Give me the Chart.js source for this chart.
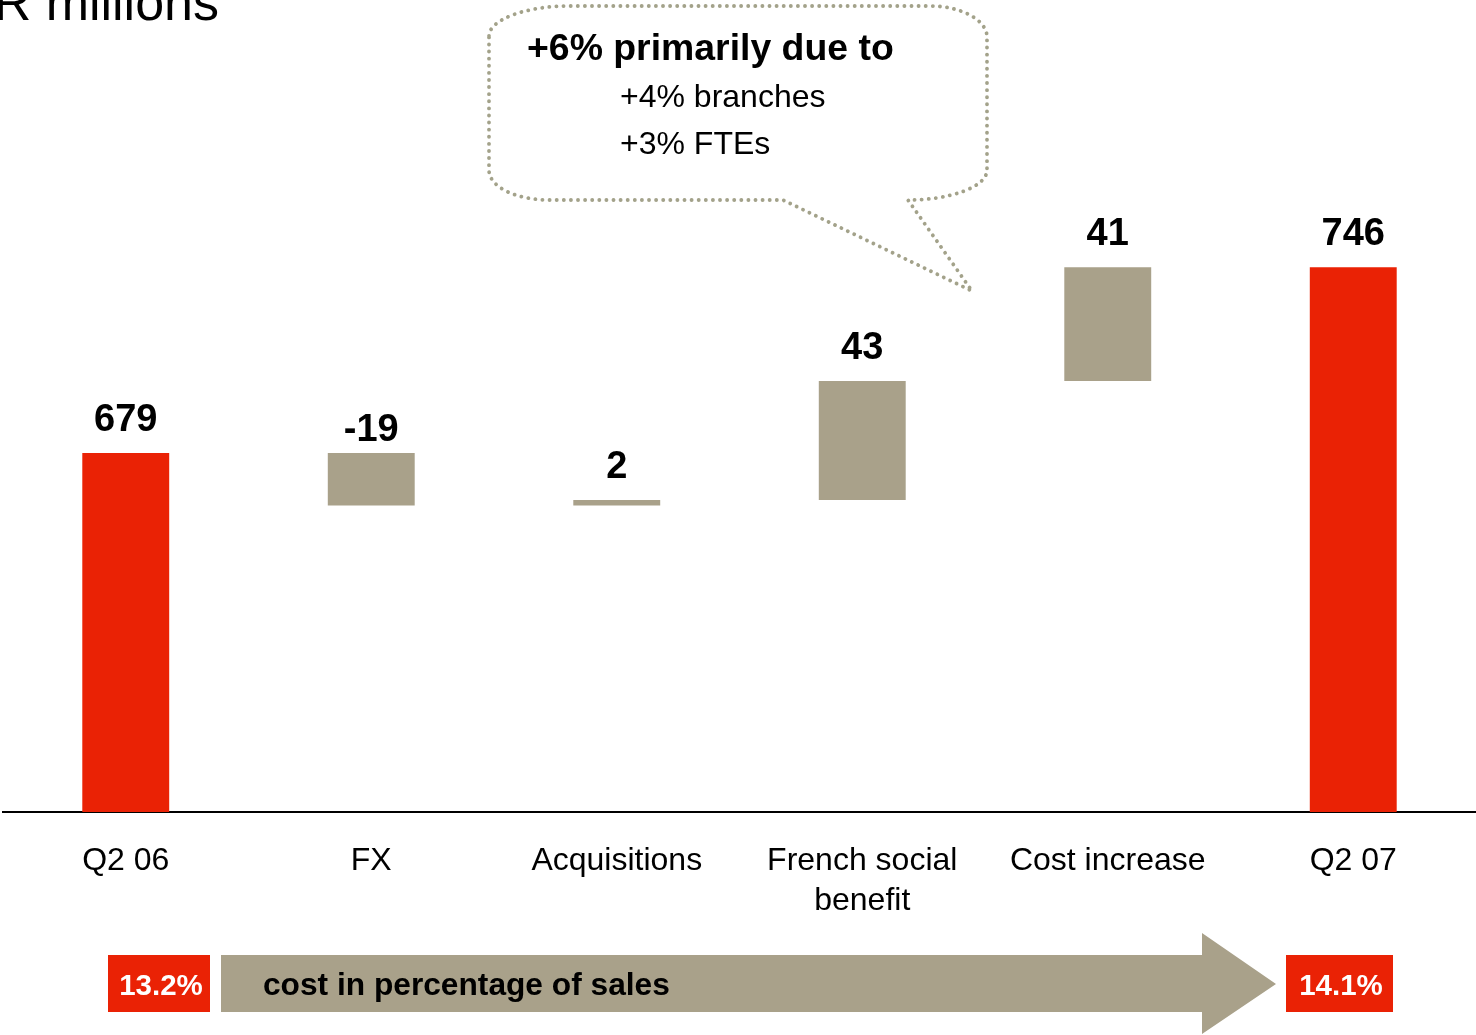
<!DOCTYPE html>
<html><head><meta charset="utf-8">
<script src="https://cdn.jsdelivr.net/npm/chart.js@4"></script>
<style>html,body{margin:0;padding:0;background:#fff;overflow:hidden}#wrap{position:relative;width:1476px;height:1035px}</style>
</head><body><div id="wrap"><canvas id="c" width="1476" height="1035"></canvas></div>
<script>
const categories = [['Q2 06'], ['FX'], ['Acquisitions'], ['French social', 'benefit'], ['Cost increase'], ['Q2 07']];
const startTotal = 679;
const deltas = [-19, 2, 43, 41];
const endTotal = 746;
const costPct = ['13.2%', '14.1%'];
const costCaption = 'cost in percentage of sales';
const unitLabel = 'EUR millions';
const calloutTitle = '+6% primarily due to';
const calloutLines = ['+4% branches', '+3% FTEs'];

const RED = '#EA2205';
const BEIGE = '#A9A18A';
const DOTS = '#A3A28A';
const FONT = "'Liberation Sans', Arial, sans-serif";

// Build waterfall floating bars from the values
const floating = [], barLabels = [], kinds = [];
floating.push([0, startTotal]); barLabels.push(String(startTotal)); kinds.push('total');
let run = startTotal;
deltas.forEach(d => { floating.push([run, run + d]); run += d; barLabels.push(String(d)); kinds.push(d < 0 ? 'neg' : 'pos'); });
floating.push([0, endTotal]); barLabels.push(String(endTotal)); kinds.push('total');
const colors = kinds.map(k => k === 'total' ? RED : BEIGE);

const labelPlugin = {
  id: 'barLabels',
  afterDatasetsDraw(chart) {
    const ctx = chart.ctx;
    const meta = chart.getDatasetMeta(0);
    ctx.save();
    ctx.fillStyle = '#000';
    ctx.font = 'bold 38px ' + FONT;
    ctx.textAlign = 'center';
    ctx.textBaseline = 'alphabetic';
    meta.data.forEach((el, i) => {
      const top = Math.min(el.y, el.base);
      const gap = kinds[i] === 'neg' ? 12 : 22;
      ctx.fillText(barLabels[i], el.x, top - gap);
    });
    ctx.restore();
  }
};

const decorPlugin = {
  id: 'decor',
  afterDraw(chart) {
    const ctx = chart.ctx;
    ctx.save();
    // unit label (cut at top-left)
    ctx.fillStyle = '#000';
    ctx.font = '52px ' + FONT;
    ctx.textAlign = 'right';
    ctx.textBaseline = 'alphabetic';
    ctx.fillText(unitLabel, 219, 20);

    // callout bubble
    ctx.beginPath();
    ctx.moveTo(489, 36);
    ctx.bezierCurveTo(489, 20, 525, 6, 569, 6);
    ctx.lineTo(930, 6);
    ctx.bezierCurveTo(961, 6, 987, 20, 987, 37);
    ctx.lineTo(987, 170);
    ctx.bezierCurveTo(987, 187, 950, 200, 908, 200);
    ctx.lineTo(972, 291);
    ctx.lineTo(783, 200);
    ctx.lineTo(550, 200);
    ctx.bezierCurveTo(516, 200, 489, 187, 489, 170);
    ctx.closePath();
    ctx.strokeStyle = DOTS;
    ctx.lineWidth = 3.8;
    ctx.lineCap = 'round';
    ctx.setLineDash([0.1, 7]);
    ctx.stroke();
    ctx.setLineDash([]);

    ctx.fillStyle = '#000';
    ctx.textAlign = 'left';
    ctx.font = 'bold 37.4px ' + FONT;
    ctx.fillText(calloutTitle, 527, 60);
    ctx.font = '32px ' + FONT;
    ctx.fillText(calloutLines[0], 620, 107);
    ctx.fillText(calloutLines[1], 620, 154);

    // bottom arrow
    ctx.fillStyle = BEIGE;
    ctx.beginPath();
    ctx.moveTo(221, 955);
    ctx.lineTo(1202, 955);
    ctx.lineTo(1202, 933);
    ctx.lineTo(1276, 984);
    ctx.lineTo(1202, 1034);
    ctx.lineTo(1202, 1012);
    ctx.lineTo(221, 1012);
    ctx.closePath();
    ctx.fill();
    ctx.fillStyle = '#000';
    ctx.font = 'bold 31.7px ' + FONT;
    ctx.textAlign = 'left';
    ctx.fillText(costCaption, 263, 995);

    // red percentage boxes
    ctx.fillStyle = RED;
    ctx.fillRect(108, 955, 102, 57);
    ctx.fillRect(1286, 955, 107, 57);
    ctx.fillStyle = '#fff';
    ctx.font = 'bold 29.5px ' + FONT;
    ctx.textAlign = 'center';
    ctx.fillText(costPct[0], 161, 995);
    ctx.fillText(costPct[1], 1341, 995);
    ctx.restore();
  }
};

new Chart(document.getElementById('c'), {
  type: 'bar',
  data: {
    labels: categories,
    datasets: [{
      data: floating,
      backgroundColor: colors,
      borderWidth: 0,
      barPercentage: 0.354,
      categoryPercentage: 1,
      clip: 0
    }]
  },
  options: {
    responsive: false,
    animation: false,
    devicePixelRatio: 1,
    layout: { padding: { left: 3, right: 0, top: 0, bottom: 0 } },
    plugins: { legend: { display: false }, tooltip: { enabled: false } },
    scales: {
      x: {
        grid: { display: false, drawTicks: false },
        border: { display: true, color: '#000', width: 2 },
        ticks: { color: '#000', font: { family: FONT, size: 32, lineHeight: 1.25 }, padding: 29, maxRotation: 0, autoSkip: false },
        afterFit(scale) { scale.height = 223; }
      },
      y: { display: false, min: 549.4, max: 842.5 }
    }
  },
  plugins: [labelPlugin, decorPlugin]
});
</script></body></html>
